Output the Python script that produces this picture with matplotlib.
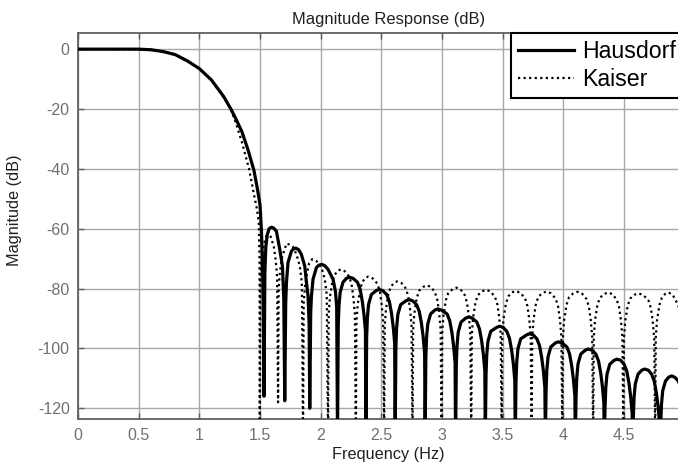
import matplotlib
matplotlib.use("Agg")
import matplotlib.pyplot as plt

plt.rcParams['font.family'] = ['Liberation Sans', 'DejaVu Sans']

# ---------------- data ----------------
title = "Magnitude Response (dB)"
xlabel = "Frequency (Hz)"
ylabel = "Magnitude (dB)"
series_names = ["Hausdorf", "Kaiser"]
xticks = [0, 0.5, 1, 1.5, 2, 2.5, 3, 3.5, 4, 4.5]
xticklabels = ["0", "0.5", "1", "1.5", "2", "2.5", "3", "3.5", "4", "4.5"]
yticks = [0, -20, -40, -60, -80, -100, -120]
yticklabels = ["0", "-20", "-40", "-60", "-80", "-100", "-120"]

# Hausdorf (solid): one lobe per line
hausdorf_f = [
    0.00, 0.50, 0.60, 0.70, 0.80, 0.90, 1.00, 1.10, 1.20, 1.26, 1.30, 1.35, 1.40, 1.45, 1.48, 1.50, 1.511, 1.520, 1.527, 1.533,
    1.540, 1.548, 1.560, 1.575, 1.594, 1.612, 1.635, 1.663, 1.685, 1.696, 1.704,
    1.712, 1.718, 1.731, 1.759, 1.775, 1.795, 1.818, 1.841, 1.869, 1.883, 1.896, 1.905, 1.910,
    1.918, 1.924, 1.937, 1.965, 1.985, 2.010, 2.035, 2.061, 2.102, 2.122, 2.132, 2.139,
    2.145, 2.151, 2.161, 2.184, 2.212, 2.237, 2.267, 2.303, 2.325, 2.343, 2.357, 2.369, 2.373,
    2.379, 2.385, 2.395, 2.418, 2.457, 2.482, 2.512, 2.544, 2.566, 2.584, 2.598, 2.610, 2.614,
    2.620, 2.626, 2.636, 2.659, 2.703, 2.728, 2.758, 2.791, 2.813, 2.831, 2.845, 2.857, 2.861,
    2.867, 2.873, 2.883, 2.906, 2.941, 2.966, 2.996, 3.042, 3.064, 3.082, 3.096, 3.108, 3.112,
    3.118, 3.124, 3.134, 3.157, 3.195, 3.220, 3.250, 3.287, 3.309, 3.327, 3.341, 3.353, 3.357,
    3.363, 3.369, 3.379, 3.402, 3.450, 3.475, 3.505, 3.534, 3.556, 3.574, 3.588, 3.600, 3.604,
    3.610, 3.616, 3.626, 3.649, 3.697, 3.722, 3.752, 3.782, 3.804, 3.822, 3.836, 3.848, 3.852,
    3.858, 3.864, 3.874, 3.897, 3.934, 3.959, 3.989, 4.029, 4.051, 4.069, 4.083, 4.095, 4.099,
    4.105, 4.111, 4.121, 4.144, 4.181, 4.206, 4.236, 4.268, 4.290, 4.308, 4.322, 4.334, 4.338,
    4.344, 4.350, 4.360, 4.383, 4.418, 4.443, 4.473, 4.501, 4.523, 4.541, 4.555, 4.567, 4.571,
    4.577, 4.583, 4.593, 4.616, 4.646, 4.671, 4.701, 4.727, 4.749, 4.767, 4.781, 4.793, 4.797,
    4.803, 4.809, 4.819, 4.842, 4.869, 4.894, 4.920, 4.946, 4.970, 5.000,
]
hausdorf_db = [
    0.0, 0.0, -0.2, -0.8, -1.8, -3.9, -6.5, -10.3, -15.8, -20.0, -23.2, -27.5, -33.5, -40.5, -47.0, -52.0, -60.0, -70.0, -88.0, -116.0,
    -75.0, -66.0, -62.0, -60.0, -59.5, -59.8, -60.8, -66.9, -72.5, -83.6, -117.5,
    -85.0, -78.0, -71.3, -67.5, -66.8, -66.5, -67.0, -68.6, -72.5, -78.0, -82.5, -92.0, -120.0,
    -88.0, -82.5, -76.9, -73.0, -72.2, -71.9, -72.4, -73.6, -76.9, -81.0, -86.0, -130.0,
    -92.2, -85.7, -81.2, -77.9, -76.6, -76.2, -76.6, -77.9, -80.2, -84.2, -88.7, -94.2, -130.0,
    -96.3, -89.8, -85.3, -82.0, -80.7, -80.3, -80.7, -82.0, -84.3, -88.3, -92.8, -98.3, -130.0,
    -99.7, -93.2, -88.7, -85.4, -84.1, -83.7, -84.1, -85.4, -87.7, -91.7, -96.2, -101.7, -130.0,
    -102.8, -96.3, -91.8, -88.5, -87.2, -86.8, -87.2, -88.5, -90.8, -94.8, -99.3, -104.8, -130.0,
    -105.5, -99.0, -94.5, -91.2, -89.9, -89.5, -89.9, -91.2, -93.5, -97.5, -102.0, -107.5, -130.0,
    -108.6, -102.1, -97.6, -94.3, -93.0, -92.6, -93.0, -94.3, -96.6, -100.6, -105.1, -110.6, -130.0,
    -111.1, -104.6, -100.1, -96.8, -95.5, -95.1, -95.5, -96.8, -99.1, -103.1, -107.6, -113.1, -130.0,
    -113.8, -107.3, -102.8, -99.5, -98.2, -97.8, -98.2, -99.5, -101.8, -105.8, -110.3, -115.8, -130.0,
    -116.2, -109.7, -105.2, -101.9, -100.6, -100.2, -100.6, -101.9, -104.2, -108.2, -112.7, -118.2, -130.0,
    -119.6, -113.1, -108.6, -105.3, -104.0, -103.6, -104.0, -105.3, -107.6, -111.6, -116.1, -121.6, -130.0,
    -122.9, -116.4, -111.9, -108.6, -107.3, -106.9, -107.3, -108.6, -110.9, -114.9, -119.4, -124.9, -130.0,
    -125.2, -118.7, -114.2, -110.9, -109.6, -109.2, -109.7, -110.8, -113.0, -117.0,
]

# Kaiser (dotted): one lobe per line
kaiser_f = [
    0.00, 0.50, 0.60, 0.70, 0.80, 0.90, 1.00, 1.10, 1.20, 1.26, 1.30, 1.35, 1.41, 1.45, 1.475, 1.490, 1.496, 1.498,
    1.503, 1.513, 1.533, 1.550, 1.565, 1.578, 1.594, 1.614, 1.629, 1.641, 1.649,
    1.654, 1.664, 1.684, 1.704, 1.718, 1.742, 1.770, 1.800, 1.828, 1.845, 1.855,
    1.860, 1.870, 1.890, 1.905, 1.930, 1.965, 2.007, 2.034, 2.050, 2.061,
    2.066, 2.076, 2.096, 2.116, 2.140, 2.165, 2.198, 2.235, 2.255, 2.270, 2.282, 2.290,
    2.295, 2.305, 2.325, 2.345, 2.366, 2.391, 2.428, 2.468, 2.488, 2.503, 2.515, 2.523,
    2.528, 2.538, 2.558, 2.578, 2.605, 2.632, 2.667, 2.702, 2.722, 2.737, 2.749, 2.757,
    2.762, 2.772, 2.792, 2.812, 2.847, 2.877, 2.910, 2.942, 2.962, 2.977, 2.989, 2.997,
    3.002, 3.012, 3.032, 3.052, 3.088, 3.120, 3.153, 3.186, 3.206, 3.221, 3.233, 3.241,
    3.246, 3.256, 3.276, 3.296, 3.332, 3.364, 3.400, 3.437, 3.457, 3.472, 3.484, 3.492,
    3.497, 3.507, 3.527, 3.547, 3.576, 3.606, 3.645, 3.684, 3.704, 3.719, 3.731, 3.739,
    3.744, 3.754, 3.774, 3.794, 3.827, 3.860, 3.898, 3.937, 3.957, 3.972, 3.984, 3.992,
    3.997, 4.007, 4.027, 4.047, 4.082, 4.117, 4.154, 4.191, 4.211, 4.226, 4.238, 4.246,
    4.251, 4.261, 4.281, 4.301, 4.336, 4.371, 4.405, 4.440, 4.460, 4.475, 4.487, 4.495,
    4.500, 4.510, 4.530, 4.550, 4.585, 4.619, 4.660, 4.702, 4.722, 4.737, 4.749, 4.757,
    4.762, 4.772, 4.792, 4.812, 4.839, 4.866, 4.900, 4.936, 4.960, 5.000,
]
kaiser_db = [
    0.0, 0.0, -0.2, -0.8, -1.8, -3.9, -6.5, -10.4, -16.0, -20.2, -24.5, -31.0, -40.0, -48.5, -53.5, -58.0, -70.0, -130.0,
    -76.0, -70.4, -65.2, -62.8, -61.0, -61.4, -63.4, -66.0, -70.4, -76.0, -118.0,
    -80.0, -74.4, -69.2, -66.8, -65.0, -65.3, -66.0, -68.5, -72.5, -78.0, -130.0,
    -85.0, -79.6, -74.4, -71.5, -70.2, -70.8, -73.0, -76.9, -82.0, -130.0,
    -88.6, -83.0, -77.8, -75.4, -74.1, -73.6, -74.2, -76.0, -78.6, -83.0, -88.6, -130.0,
    -91.0, -85.4, -80.2, -77.8, -76.5, -76.0, -76.6, -78.4, -81.0, -85.4, -91.0, -130.0,
    -92.6, -87.0, -81.8, -79.4, -78.1, -77.6, -78.2, -80.0, -82.6, -87.0, -92.6, -130.0,
    -93.9, -88.3, -83.1, -80.7, -79.4, -78.9, -79.5, -81.3, -83.9, -88.3, -93.9, -130.0,
    -94.7, -89.1, -83.9, -81.5, -80.2, -79.7, -80.3, -82.1, -84.7, -89.1, -94.7, -130.0,
    -95.4, -89.8, -84.6, -82.2, -80.9, -80.4, -81.0, -82.8, -85.4, -89.8, -95.4, -130.0,
    -95.8, -90.2, -85.0, -82.6, -81.3, -80.8, -81.4, -83.2, -85.8, -90.2, -95.8, -130.0,
    -96.0, -90.4, -85.2, -82.8, -81.5, -81.0, -81.6, -83.4, -86.0, -90.4, -96.0, -130.0,
    -96.1, -90.5, -85.3, -82.9, -81.6, -81.1, -81.7, -83.5, -86.1, -90.5, -96.1, -130.0,
    -96.3, -90.7, -85.5, -83.1, -81.8, -81.3, -81.9, -83.7, -86.3, -90.7, -96.3, -130.0,
    -96.6, -91.0, -85.8, -83.4, -82.1, -81.6, -82.2, -84.0, -86.6, -91.0, -96.6, -130.0,
    -96.3, -90.7, -85.5, -83.1, -81.8, -81.3, -82.0, -84.7, -87.0, -93.0,
]

assert len(hausdorf_f) == len(hausdorf_db)
assert len(kaiser_f) == len(kaiser_db)

# ---------------- figure ----------------
W, H = 678, 466
fig = plt.figure(figsize=(W / 100, H / 100), dpi=100)
ax = fig.add_axes([78 / W, 1 - 419.3 / H, (698 - 78) / W, (419.3 - 33.3) / H])

ax.plot(hausdorf_f, hausdorf_db, color='black', lw=2.3, solid_joinstyle='round',
        label=series_names[0], zorder=3)
ax.plot(kaiser_f, kaiser_db, color='black', lw=1.6, linestyle=(0, (1.0, 1.5)),
        dash_capstyle='butt', label=series_names[1], zorder=3)

ax.set_xlim(0, 5.11)
ax.set_ylim(-123.7, 5.3)
ax.set_xticks(xticks)
ax.set_xticklabels(xticklabels)
ax.set_yticks(yticks)
ax.set_yticklabels(yticklabels)

tick_gray = '#707070'
ax.grid(True, color='#a8a8a8', lw=1.0, ls='-', zorder=0)
ax.set_axisbelow(True)
for s in ax.spines.values():
    s.set_color('#606060')
    s.set_linewidth(1.3)
ax.tick_params(direction='in', length=4, width=1, colors='#606060',
               labelcolor=tick_gray, labelsize=11.5, top=True, right=True, pad=6)

ax.set_xlabel(xlabel, fontsize=11.7, color='#202020', labelpad=3)
ax.set_ylabel(ylabel, fontsize=11.7, color='#202020')
ax.yaxis.set_label_coords((22 - 78) / 620, (419.3 - 210) / 386)
ax.set_title(title, fontsize=11.9, color='#202020', pad=7)

leg = ax.legend(loc='upper left', bbox_to_anchor=(510.7 / W, 1 - 33.3 / H),
                bbox_transform=fig.transFigure, fontsize=16.7, frameon=True,
                fancybox=False, edgecolor='black', framealpha=1,
                handlelength=2.45, handletextpad=0.35, borderpad=0.3,
                labelspacing=0.2, borderaxespad=0)
leg.get_frame().set_linewidth(1.5)

fig.savefig('out.png', dpi=100)
